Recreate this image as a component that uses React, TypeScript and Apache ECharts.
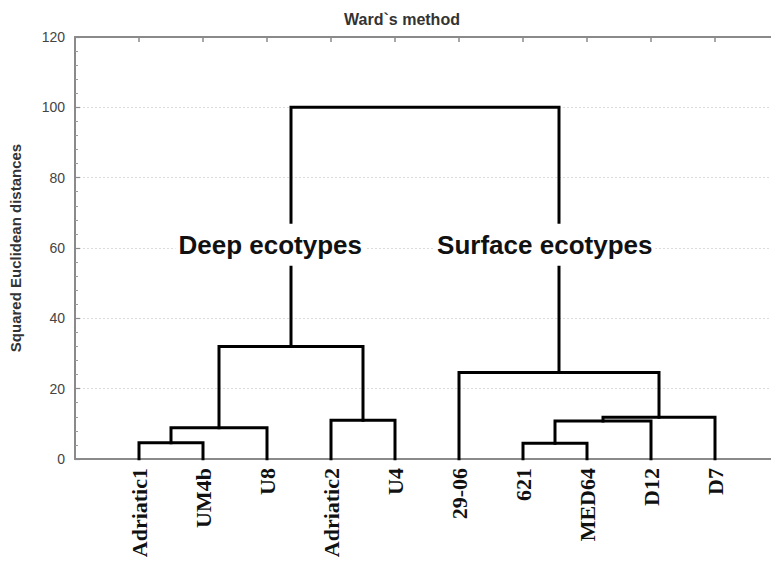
import React, { useEffect, useRef } from "react";
import * as echarts from "echarts";

// Leaves of the dendrogram, in drawing order
const leaves = ["Adriatic1", "UM4b", "U8", "Adriatic2", "U4", "29-06", "621", "MED64", "D12", "D7"];

// Merges: [left child, right child, linkage distance]; children < 10 are leaves, >= 10 previous merges
const mergeLeft = [0, 10, 3, 11, 6, 14, 15, 5, 13];
const mergeRight = [1, 2, 4, 12, 7, 8, 9, 16, 17];
const mergeHeight = [4.6, 8.9, 11.0, 32.0, 4.5, 10.8, 11.9, 24.6, 100];

// Y-axis ticks
const yMin = 0;
const yMax = 120;
const yInterval = 20;

// Cluster annotations (data coordinates)
const annotationText = ["Deep ecotypes", "Surface ecotypes"];
const annotationX = [3.05, 7.34];
const annotationY = [60.9, 60.9];

export default function App() {
  const ref = useRef<HTMLDivElement>(null);
  useEffect(() => {
    if (!ref.current) return;
    const chart = echarts.init(ref.current, null, { renderer: "svg" });

    const nodeX: number[] = leaves.map((_, i) => i + 1);
    const nodeH: number[] = leaves.map(() => 0);
    const linkSeries: any[] = [];
    mergeLeft.forEach((l, k) => {
      const r = mergeRight[k];
      const h = mergeHeight[k];
      const data = [
        [nodeX[l], nodeH[l]],
        [nodeX[l], h],
        [nodeX[r], h],
        [nodeX[r], nodeH[r]],
      ];
      nodeX.push((nodeX[l] + nodeX[r]) / 2);
      nodeH.push(h);
      linkSeries.push({
        type: "line",
        data,
        symbol: "none",
        silent: true,
        z: 3,
        lineStyle: { color: "#000", width: 3, cap: "square", join: "miter" },
      });
    });

    const option: any = {
      animation: false,
      backgroundColor: "#fff",
      title: {
        text: "Ward`s method",
        left: 397,
        textAlign: "center",
        top: 6,
        textStyle: { fontFamily: "Liberation Sans", fontSize: 16, fontWeight: "bold", color: "#333" },
      },
      grid: { left: 75, top: 37, width: 704, height: 422, outerBoundsMode: "none" },
      xAxis: [
        {
          type: "value",
          min: 0,
          max: leaves.length + 1,
          interval: 1,
          position: "bottom",
          axisLine: { show: true, lineStyle: { color: "#8a8a8a", width: 2 } },
          axisTick: { show: false },
          splitLine: { show: false },
          axisLabel: {
            rotate: 90,
            margin: 9,
            fontFamily: "Liberation Serif",
            fontWeight: "bold",
            fontSize: 22,
            color: "#111",
            showMinLabel: true,
            showMaxLabel: true,
            formatter: (v: number) => {
              const i = Math.round(v) - 1;
              return i >= 0 && i < leaves.length ? leaves[i] : "";
            },
          },
        },
        {
          type: "value",
          min: 0,
          max: leaves.length + 1,
          interval: 1,
          position: "top",
          axisLine: { show: true, lineStyle: { color: "#8a8a8a", width: 2 } },
          axisTick: { show: true, inside: true, length: 5, lineStyle: { color: "#8a8a8a", width: 1.5 } },
          axisLabel: { show: false },
          splitLine: { show: false },
        },
      ],
      yAxis: {
        type: "value",
        min: yMin,
        max: yMax,
        interval: yInterval,
        name: "Squared Euclidean distances",
        nameLocation: "middle",
        nameGap: 52,
        nameTextStyle: { fontFamily: "Liberation Sans", fontSize: 15, fontWeight: "bold", color: "#333" },
        axisLine: { show: true, lineStyle: { color: "#8a8a8a", width: 2 } },
        axisTick: { show: true, inside: true, length: 5, lineStyle: { color: "#8a8a8a", width: 1.2 } },
        minorTick: { show: true, splitNumber: 5, length: 3, lineStyle: { color: "#9a9a9a", width: 1 } },
        axisLabel: { margin: 10, fontFamily: "Liberation Sans", fontSize: 14, color: "#444" },
        splitLine: { show: true, lineStyle: { color: "#dcdcdc", width: 1, type: [2, 2] } },
      },
      series: [
        ...linkSeries,
        {
          type: "scatter",
          data: annotationText.map((t, i) => [annotationX[i], annotationY[i], t]),
          symbolSize: 0,
          silent: true,
          z: 10,
          itemStyle: { opacity: 1 },
          label: {
            show: true,
            position: "inside",
            formatter: (p: any) => p.data[2],
            fontFamily: "Liberation Sans",
            fontWeight: "bold",
            fontSize: 26,
            color: "#111",
            opacity: 1,
            backgroundColor: "#fff",
            padding: [8, 3],
          },
        },
      ],
    };
    chart.setOption(option);
    return () => chart.dispose();
  }, []);
  return (
    <div
      ref={ref}
      style={{ position: "absolute", left: 0, top: 0, width: 771, height: 565, background: "#fff" }}
    />
  );
}
